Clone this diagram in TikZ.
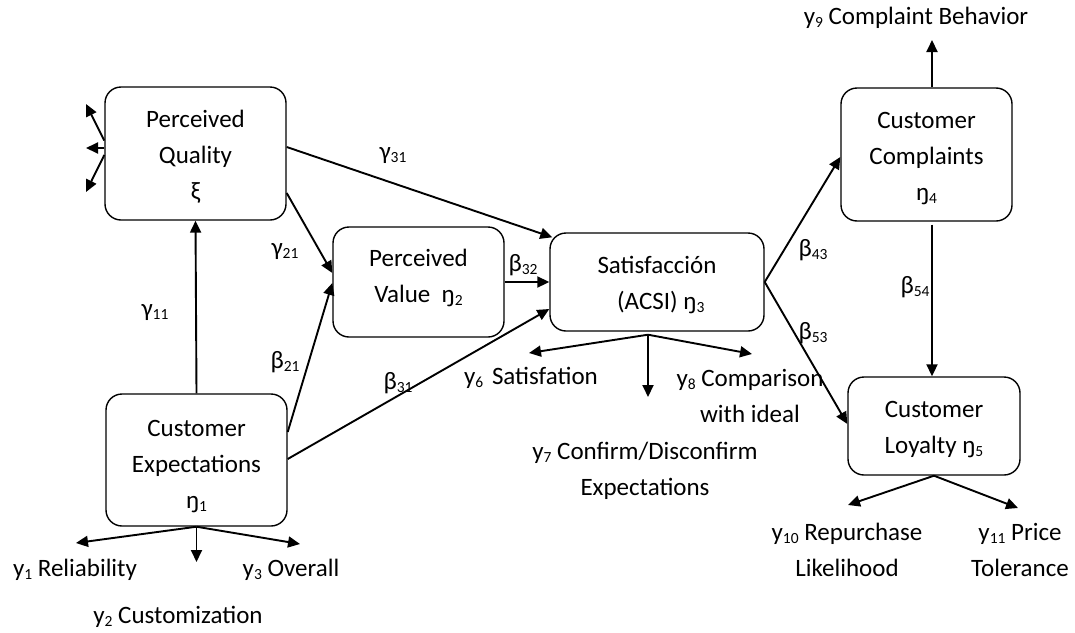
\documentclass[tikz,border=0pt]{standalone}
\usepackage{fontspec}
\setmainfont{Carlito}
\usetikzlibrary{arrows.meta,calc}
% small lowered index used for all subscripts
\newcommand\sbx[1]{\raisebox{-0.12em}{\fontsize{15.5}{15.5}\selectfont #1}}
% centred lines with extra room above (#1) or below (#2) to move them inside a box
\newcommand\padtext[3]{\raisebox{0pt}[\dimexpr\height+#1\relax][\dimexpr\depth+#2\relax]{\begin{tabular}{@{}c@{}}#3\end{tabular}}}
\begin{document}
\begin{tikzpicture}[x=1pt,y=-1pt,
  every node/.style={font=\fontsize{25}{36}\selectfont},
  latent/.style={draw, line width=1.4pt, rounded corners=16pt, inner sep=0pt},
  link/.style={line width=1.9pt, -{Triangle[length=12pt,width=11pt]}},
  coef/.style={inner sep=0pt},
  ind/.style={inner sep=0pt, align=center}]

\useasboundingbox (0,0) rectangle (1075,632);

% latent variables
\node[latent, minimum width=181pt, minimum height=133pt] (pq) at (195.5,153.5) {\padtext{6pt}{0pt}{Perceived\\Quality\\ξ}};
\node[latent, minimum width=181pt, minimum height=132pt] (ce) at (196.5,460) {\padtext{10pt}{0pt}{Customer\\Expectations\\ŋ\sbx{1}}};
\node[latent, minimum width=171pt, minimum height=110pt] (pv) at (418.5,282) {\padtext{0pt}{10pt}{Perceived\\Value~~ŋ\sbx{2}}};
\node[latent, minimum width=214pt, minimum height=98pt] (s) at (657,282) {\padtext{4pt}{0pt}{Satisfacción\\\hspace*{0.3em}(ACSI) ŋ\sbx{3}}};
\node[latent, minimum width=171pt, minimum height=133pt] (cc) at (926.5,154.5) {\padtext{6pt}{0pt}{Customer\\Complaints\\ŋ\sbx{4}}};
\node[latent, minimum width=172pt, minimum height=98pt] (cl) at (934,426) {\padtext{4pt}{0pt}{Customer\\Loyalty ŋ\sbx{5}}};

% structural paths
\draw[link] (ce.north) -- (pq.south);
\draw[link] ($(pq.east)+(0,-6.5)$) -- ($(s.north west)+(3,5)$);
\draw[link] ($(pq.east)+(0,39.5)$) -- ($(pv.west)+(0,-9)$);
\draw[link] ($(ce.east)+(0,-28)$) -- ($(pv.west)+(0,1)$);
\draw[link] ($(ce.east)+(0,-1)$) -- ($(s.west)+(0,27)$);
\draw[link] (pv.east) -- (s.west);
\draw[link] (s.east) -- ($(cc.west)+(0,2.5)$);
\draw[link] (s.east) -- ($(cl.west)+(0,-2)$);
\draw[link] ($(cc.south)+(5.5,3)$) -- ($(cl.north)+(-2,0)$);

% path coefficients
\node[coef] (g31) at (393,155) {γ\sbx{31}};
\node[coef] (g21) at (285,251) {γ\sbx{21}};
\node[coef] (g11) at (155,312) {γ\sbx{11}};
\node[coef] (b21) at (285,362) {β\sbx{21}};
\node[coef] (b32) at (523,265) {β\sbx{32}};
\node[coef] (b31) at (398,383) {β\sbx{31}};
\node[coef] (b43) at (813,250) {β\sbx{43}};
\node[coef] (b53) at (813,333) {β\sbx{53}};
\node[coef] (b54) at (915,287) {β\sbx{54}};

% measurement arrows: perceived quality
\coordinate (q1) at (86,104);
\coordinate (q2) at (86,148);
\coordinate (q3) at (86,192);
\draw[link] ($(pq.west)+(0,-13)$) -- (q1);
\draw[link] ($(pq.west)+(0,-5.5)$) -- (q2);
\draw[link] ($(pq.west)+(0,1.5)$) -- (q3);

% measurement arrows: customer expectations
\coordinate (e1) at (76,543);
\coordinate (e2) at (196.5,562);
\coordinate (e3) at (300,544);
\draw[link] (ce.south) -- (e1);
\draw[link] (ce.south) -- (e2);
\draw[link] (ce.south) -- (e3);
\node[ind] (y1) at (75,570) {y\sbx{1} Reliability};
\node[ind] (y3) at (291,570) {y\sbx{3} Overall};
\node[ind] (y2) at (178,617) {y\sbx{2} Customization};

% measurement arrows: satisfaction
\coordinate (sa) at ($(s.south)+(-9,3)$);
\coordinate (s6) at (529,353);
\coordinate (s7) at (648,397);
\coordinate (s8) at (752,354);
\draw[link] (sa) -- (s6);
\draw[link] (sa) -- (s7);
\draw[link] (sa) -- (s8);
\node[ind] (y6) at (531,378) {y\sbx{6}\hspace{3pt} Satisfation};
\node[ind] (y8) at (750,396) {y\sbx{8} Comparison\\with ideal};
\node[ind] (y7) at (645,471) {y\sbx{7} Confirm/Disconfirm\\Expectations};

% measurement arrow: complaints
\coordinate (c9) at (932,40);
\draw[link] ($(cc.north)+(5.5,0)$) -- (c9);
\node[ind] (y9) at (916,18) {y\sbx{9} Complaint Behavior};

% measurement arrows: loyalty
\coordinate (l10) at (848,505);
\coordinate (l11) at (1018,508);
\draw[link] (cl.south) -- (l10);
\draw[link] (cl.south) -- (l11);
\node[ind] (y10) at (847,550) {y\sbx{10} Repurchase\\Likelihood};
\node[ind] (y11) at (1020,550) {y\sbx{11} Price\\Tolerance};

\end{tikzpicture}
\end{document}
